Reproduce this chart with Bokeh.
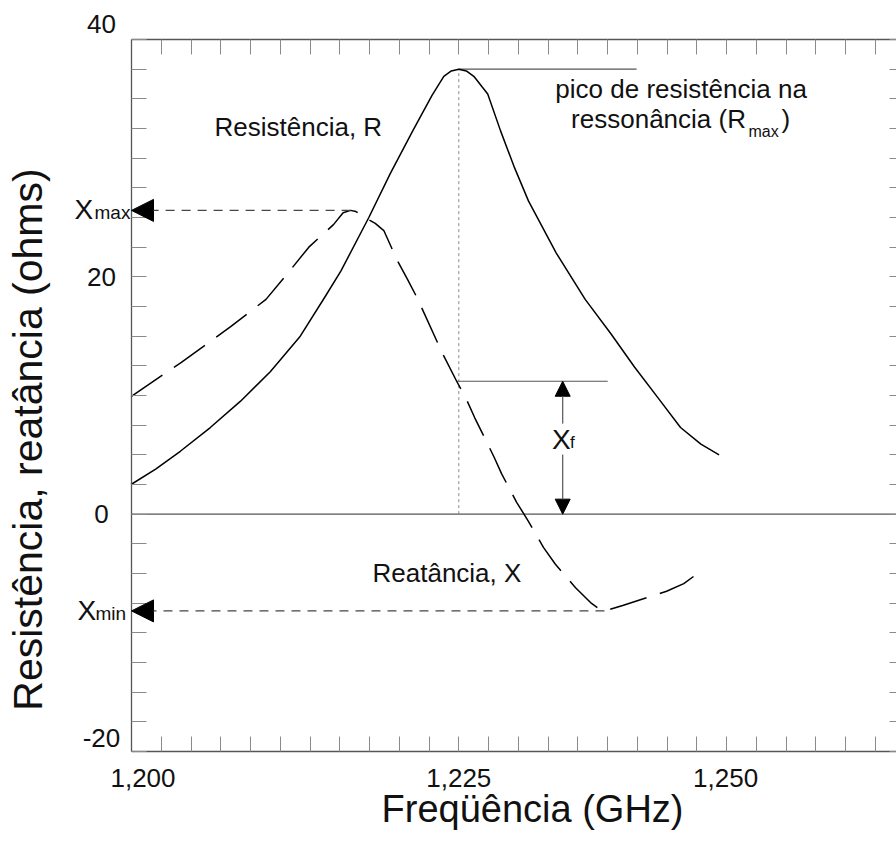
import numpy as np
from bokeh.plotting import figure
from bokeh.models import (LinearAxis, FixedTicker, Label, Arrow, NormalHead, Range1d)
from bokeh.embed import file_html
from bokeh.resources import INLINE

# ---------------- data ----------------
FREQ_R = [1.1944, 1.1967, 1.1990, 1.2018, 1.2046, 1.2074, 1.2102, 1.2125, 1.2140, 1.2166,
          1.2186, 1.2207, 1.2225, 1.2236, 1.2243, 1.2250, 1.2257, 1.2264, 1.2277, 1.2289,
          1.2302, 1.2315, 1.2341, 1.2368, 1.2392, 1.2414, 1.2436, 1.2457, 1.2476, 1.2493]
RESIST = [2.5, 3.8, 5.3, 7.3, 9.5, 12.0, 15.0, 18.3, 20.5, 25.0,
          28.7, 32.3, 35.3, 36.9, 37.35, 37.5, 37.35, 36.9, 35.4, 32.3,
          29.2, 26.4, 22.0, 18.1, 15.2, 12.4, 9.8, 7.3, 5.9, 5.0]

FREQ_X = [1.1944, 1.1991, 1.2037, 1.2070, 1.2093, 1.2110, 1.2133, 1.2142, 1.2149, 1.2154,
          1.2165, 1.2172, 1.2180, 1.2193, 1.2202, 1.2211, 1.2235, 1.2248, 1.2257, 1.2265,
          1.2283, 1.2290, 1.2304, 1.2315, 1.2329, 1.2340, 1.2359, 1.2373, 1.2382, 1.2386,
          1.2403, 1.2444, 1.2460, 1.2473]
REACT = [9.9, 12.8, 15.8, 18.1, 20.6, 22.5, 24.4, 25.4, 25.6, 25.5,
         24.85, 24.5, 23.9, 21.3, 19.8, 18.25, 13.5, 11.2, 9.7, 8.1,
         4.8, 3.4, 1.0, -0.6, -2.8, -4.2, -6.2, -7.45, -8.05, -8.15,
         -7.7, -6.5, -5.85, -5.0]

XF_LEVEL = 11.2          # reactance at the resonance frequency (X_f)
XF_ARROW_FREQ = 1.2347   # where the X_f double arrow stands

X_TICK_VALUES = [1.200, 1.225, 1.250]
X_TICK_LABELS = ["1,200", "1,225", "1,250"]
Y_TICK_VALUES = [40, 20, 0, -20]
Y_TICK_LABELS = ["40", "20", "0", "-20"]

# ---------------- geometry ----------------
W, H = 896, 845
FL, FT, FB = 131, 39, 751          # plot box left / top / bottom (px)
FR = 904                           # right side of the box lies just outside the picture
TICK_STEP = 0.025 / 9
X_START = 1.225 - 11 * TICK_STEP
PX_PER_GHZ = (458.3 - FL) / (1.225 - X_START)
Y0, Y1 = -20, 40
PX_PER_OHM = (FB - FT) / (Y1 - Y0)


def gx(px):
    return X_START + (px - FL) / PX_PER_GHZ


def gy(py):
    return Y1 - (py - FT) / PX_PER_OHM


X_BOX_END = gx(FR)

FONT = "Liberation Sans"
INK = "#111111"
FRAME = "#555555"
TICKC = "#8a8a8a"

p = figure(width=W, height=H, output_backend="svg", toolbar_location=None,
           x_range=Range1d(gx(0), gx(W)), y_range=Range1d(gy(H), gy(0)),
           x_axis_location=None, y_axis_location=None,
           min_border=0, min_border_left=0, min_border_right=0,
           min_border_top=0, min_border_bottom=0)
p.grid.visible = False
p.outline_line_color = None
p.background_fill_color = "white"
p.border_fill_color = "white"

x_minor = list(np.arange(X_START + TICK_STEP, X_BOX_END - 1e-6, TICK_STEP))
y_minor = list(np.arange(Y0, Y1 + 0.01, 2.5))


def make_axis(loc, bounds, minor):
    ax = LinearAxis(fixed_location=loc, bounds=bounds)
    ax.ticker = FixedTicker(ticks=[], minor_ticks=minor)
    ax.axis_line_color = FRAME
    ax.axis_line_width = 1.3
    ax.major_tick_line_color = None
    ax.minor_tick_line_color = TICKC
    ax.minor_tick_line_width = 1
    ax.minor_tick_in = 15
    ax.minor_tick_out = 0
    ax.major_label_text_font_size = "0px"
    ax.major_label_standoff = 0
    return ax


p.add_layout(make_axis(X_START, (Y0, Y1), y_minor), "left")
p.add_layout(make_axis(X_BOX_END, (Y0, Y1), y_minor), "right")
p.add_layout(make_axis(Y0, (X_START, X_BOX_END), x_minor), "below")
p.add_layout(make_axis(Y1, (X_START, X_BOX_END), x_minor), "above")

RMAX = max(RESIST)
RES_FREQ = FREQ_R[int(np.argmax(RESIST))]
XMAX = max(REACT)
XMAX_FREQ = FREQ_X[int(np.argmax(REACT))]
XMIN = min(REACT)
XMIN_FREQ = FREQ_X[int(np.argmin(REACT))]

# zero line
p.segment(x0=[X_START], y0=[0], x1=[X_BOX_END], y1=[0], line_color=FRAME, line_width=1.3)

# guide lines
p.segment(x0=[RES_FREQ], y0=[0], x1=[RES_FREQ], y1=[RMAX], line_color="#8a8a8a",
          line_dash="3 3", line_width=1)
p.segment(x0=[RES_FREQ], y0=[RMAX], x1=[1.2416], y1=[RMAX], line_color=FRAME, line_width=1.2)
p.segment(x0=[1.2248], y0=[XF_LEVEL], x1=[1.2389], y1=[XF_LEVEL], line_color=FRAME, line_width=1.2)

# curves
p.line(FREQ_R, RESIST, line_color="black", line_width=1.5, line_join="round")
p.line(FREQ_X, REACT, line_color="black", line_width=1.5, line_dash="38 14", line_join="round")

# Xmax / Xmin arrows
for lvl, f in [(XMAX, XMAX_FREQ), (XMIN, XMIN_FREQ)]:
    p.add_layout(Arrow(x_start=f, y_start=lvl, x_end=X_START, y_end=lvl,
                       start=None,
                       end=NormalHead(size=22, fill_color="black", line_color="black"),
                       line_color="#444444", line_width=1.2, line_dash="9 7"))

# Xf double arrow
p.add_layout(Arrow(x_start=XF_ARROW_FREQ, y_start=0, x_end=XF_ARROW_FREQ, y_end=XF_LEVEL,
                   start=NormalHead(size=15, fill_color="black", line_color="black"),
                   end=NormalHead(size=15, fill_color="black", line_color="black"),
                   line_color=FRAME, line_width=1.2))

MID = 0.3465   # distance from alphabetic baseline to the middle of the text box, in em


def lab(text, px, py, size, align="left", angle=0, bg=None, baseline_given=True):
    """px, py: anchor in picture pixels; py is the text baseline when baseline_given."""
    if baseline_given:
        if angle == 90:
            px = px - MID * size
        else:
            py = py - MID * size
    l = Label(x=gx(px), y=gy(py), text=text, text_font=FONT,
              text_font_size=f"{size}px", text_align=align, text_baseline="middle",
              text_color=INK, angle=angle, angle_units="deg")
    if bg is not None:
        l.background_fill_color = bg
    p.add_layout(l)


# tick labels
Y_LABEL_LIFT_PX = [15.5, 0, 0, 14]
for v, t, lift in zip(Y_TICK_VALUES, Y_TICK_LABELS, Y_LABEL_LIFT_PX):
    py = FT + (Y1 - v) * PX_PER_OHM - lift
    lab(t, 101, py, 26, align="center", baseline_given=False)
X_LABEL_SHIFT_PX = [-48, 0, -1]
for v, t, sh in zip(X_TICK_VALUES, X_TICK_LABELS, X_LABEL_SHIFT_PX):
    px = FL + (v - X_START) * PX_PER_GHZ + sh
    lab(t, px, 777.5, 26, align="center", baseline_given=False)

# axis titles
lab("Freqüência (GHz)", 532, 822, 38, align="center")
lab("Resistência, reatância (ohms)", 42, 439, 41, align="center", angle=90)

# annotations
lab("Resistência, R", 214, 136, 26)
lab("pico de resistência na", 680.6, 98, 26, align="center")
lab("ressonância (R", 570.6, 128, 26)
lab("max", 748, 136.5, 16)
lab(")", 781, 128, 26)
lab("Reatância, X", 372, 581.7, 26)
lab("X", 551.6, 448.3, 28, bg="white")
lab("f", 569.5, 448.3, 17)
lab("X", 74, 218.3, 28)
lab("max", 94, 218.3, 19)
lab("X", 77, 620, 28)
lab("min", 95, 620, 19)

open("out.html", "w").write(file_html(p, INLINE))
